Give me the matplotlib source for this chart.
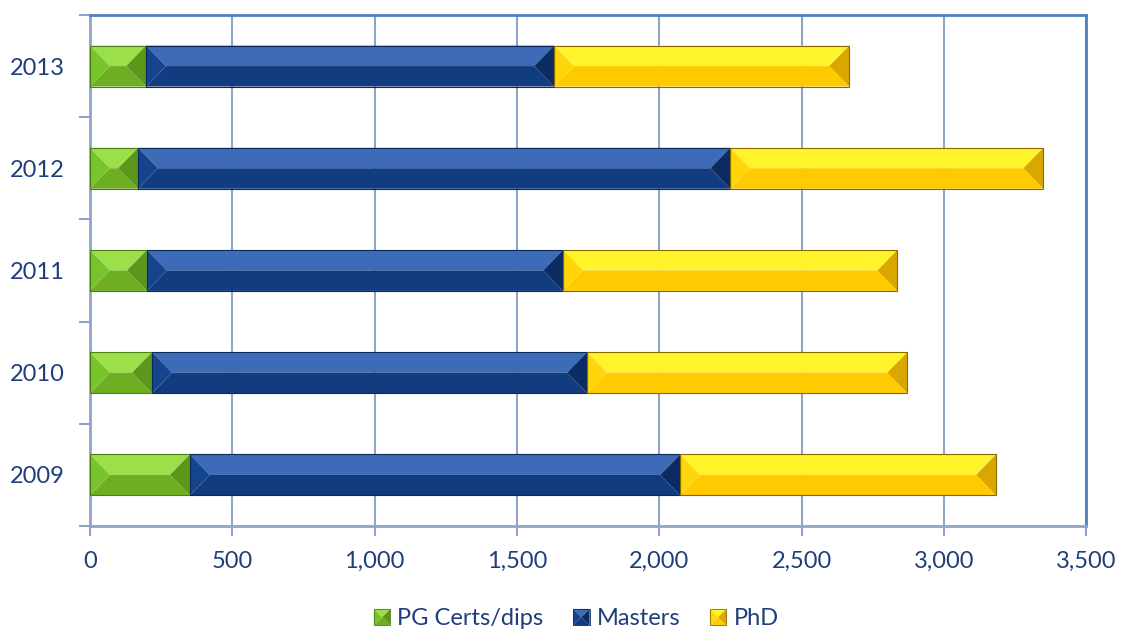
import matplotlib.pyplot as plt
from matplotlib.patches import Polygon
from matplotlib.legend_handler import HandlerBase
import numpy as np

years = ['2009', '2010', '2011', '2012', '2013']
pg_certs = [351, 218, 200, 169, 197]
masters = [1722, 1528, 1462, 2080, 1433]
phd = [1110, 1125, 1174, 1100, 1037]

series = ['PG Certs/dips', 'Masters', 'PhD']
# top facet, bottom facet, left facet, right facet, edge
shades = {
    'PG Certs/dips': ('#9BE048', '#6DAE22', '#78C42C', '#5C961A', '#4E7F16'),
    'Masters': ('#3D6BB8', '#123C80', '#15448E', '#0B2C62', '#0A2A5C'),
    'PhD': ('#FFF42A', '#FFCB00', '#FFD60A', '#D9A800', '#8A6A00'),
}

text_color = '#1F3F7A'
grid_color = '#8EA4C8'
frame_color = '#4F81BD'
font = 'Lato'


def bevel_bar(ax, x0, x1, yc, h, cols, d=70):
    top, bot = yc + h / 2, yc - h / 2
    dd = min(d, (x1 - x0) / 2)
    ax.add_patch(Polygon([(x0, top), (x1, top), (x1 - dd, yc), (x0 + dd, yc)],
                         closed=True, facecolor=cols[0], edgecolor='none', zorder=3))
    ax.add_patch(Polygon([(x0, bot), (x1, bot), (x1 - dd, yc), (x0 + dd, yc)],
                         closed=True, facecolor=cols[1], edgecolor='none', zorder=3))
    ax.add_patch(Polygon([(x0, top), (x0, bot), (x0 + dd, yc)],
                         closed=True, facecolor=cols[2], edgecolor='none', zorder=3))
    ax.add_patch(Polygon([(x1, top), (x1, bot), (x1 - dd, yc)],
                         closed=True, facecolor=cols[3], edgecolor='none', zorder=3))
    ax.add_patch(Polygon([(x0, top), (x1, top), (x1, bot), (x0, bot)],
                         closed=True, facecolor='none', edgecolor=cols[4], lw=0.8, zorder=4))


class BevelHandler(HandlerBase):
    def create_artists(self, legend, orig_handle, xdescent, ydescent,
                       width, height, fontsize, trans):
        cols = shades[orig_handle.get_label()]
        s = height * 1.0
        x0 = width - s
        y0 = (height - s) / 2
        c = (x0 + s / 2, y0 + s / 2)
        tl, tr = (x0, y0 + s), (x0 + s, y0 + s)
        bl, br = (x0, y0), (x0 + s, y0)
        arts = []
        for pts, col in [([tl, tr, c], cols[0]), ([bl, br, c], cols[1]),
                         ([tl, bl, c], cols[2]), ([tr, br, c], cols[3])]:
            arts.append(Polygon(pts, closed=True, facecolor=col, edgecolor='none', transform=trans))
        arts.append(Polygon([tl, tr, br, bl], closed=True, facecolor='none',
                            edgecolor=cols[4], lw=0.6, transform=trans))
        return arts


fig = plt.figure(figsize=(11.22, 6.29), dpi=100)
ax = fig.add_axes([0.0802, 0.1638, 0.888, 0.8124])

y = np.arange(len(years))
h = 0.4
for i in range(len(years)):
    left = 0
    for name, vals in zip(series, [pg_certs, masters, phd]):
        bevel_bar(ax, left, left + vals[i], y[i], h, shades[name])
        left += vals[i]

ax.set_xlim(0, 3500)
ax.set_ylim(-0.5, len(years) - 0.5)
ax.set_xticks(np.arange(0, 3501, 500))
ax.set_xticklabels([f'{v:,}' for v in range(0, 3501, 500)])
ax.set_yticks(y)
ax.set_yticklabels(years)
ax.set_yticks(np.arange(-0.5, len(years)), minor=True)

ax.grid(axis='x', color=grid_color, lw=1.5, zorder=0)
ax.set_axisbelow(True)

for side in ['left', 'bottom']:
    ax.spines[side].set_color(grid_color)
    ax.spines[side].set_linewidth(2)
for side in ['top', 'right']:
    ax.spines[side].set_color(frame_color)
    ax.spines[side].set_linewidth(2)

ax.tick_params(axis='y', which='major', length=0, pad=18, labelsize=17, labelcolor=text_color)
ax.tick_params(axis='y', which='minor', length=8, width=1.5, color=grid_color, direction='out')
ax.tick_params(axis='x', which='major', length=7, width=1.5, color=grid_color, pad=11,
               labelsize=17, labelcolor=text_color)
for lab in ax.get_xticklabels() + ax.get_yticklabels():
    lab.set_family(font)

handles = [Polygon([(0, 0)], label=s) for s in series]
leg = fig.legend(handles=handles, labels=series, loc='center', bbox_to_anchor=(0.5125, 0.016),
                 ncol=3, frameon=False, handler_map={Polygon: BevelHandler()},
                 prop={'family': font, 'size': 17}, handlelength=0.8,
                 handletextpad=0.3, columnspacing=1.15)
for t in leg.get_texts():
    t.set_color(text_color)

fig.savefig('out.png', dpi=100)
